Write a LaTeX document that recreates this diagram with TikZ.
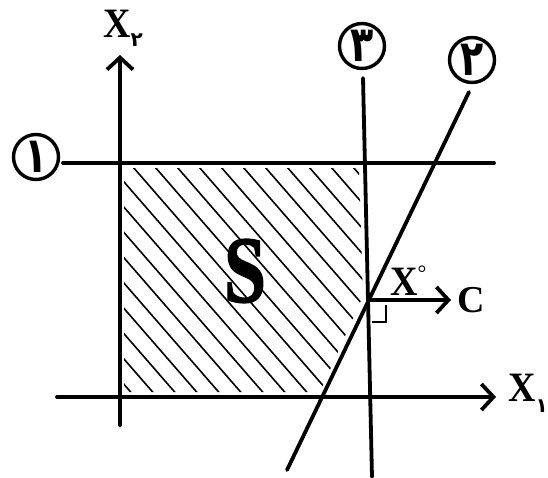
\documentclass[tikz,border=0pt]{standalone}
\usepackage{fontspec}
\setmainfont{Liberation Serif}
\newfontfamily\fa[Script=Arabic]{DejaVu Sans}
\newfontfamily\heavyS[FakeBold=1.5]{Liberation Serif Bold}
\usetikzlibrary{arrows.meta}
\newcommand{\cnum}[1]{\raisebox{-3pt}{\scalebox{1}[1.3]{#1}}}
\tikzset{
  axis/.style={line width=3.8pt, line cap=round},
  bar/.style={-{Straight Barb[length=12pt,width=26pt,line width=3.8pt]}},
  circnum/.style={circle, draw, line width=3.4pt, minimum size=45pt, inner sep=0pt,
    font=\fa\bfseries\fontsize{38}{38}\selectfont},
  hatch/.style={line width=1.6pt},
  lab/.style={inner sep=0pt, font=\bfseries\fontsize{38}{38}\selectfont},
}
\begin{document}
\begin{tikzpicture}[x=1pt,y=-1pt]
\useasboundingbox (0,0) rectangle (548,477);
% coordinates
\coordinate (x2b) at (120,425);
\coordinate (x2t) at (120,55);
\coordinate (x1l) at (57,397);
\coordinate (x1r) at (496,397);
\coordinate (l1a) at (63,163);
\coordinate (l1b) at (494,163);
\coordinate (l3a) at (363,78);
\coordinate (l3b) at (372,477);
\coordinate (l2a) at (469,92);
\coordinate (l2b) at (287,470);
\coordinate (X0) at (369,300);
\coordinate (Ct) at (451,300);
% hatching
\begin{scope}
\clip (124,168) -- (359,168) -- (363,296) -- (320,392) -- (124,392) -- cycle;
\foreach \k in {0,...,20}{
  \draw[hatch] ({135+22*\k+40},{397+46}) -- ({135+22*\k-300},{397-345});
}
\end{scope}
% lines
\draw[axis] (l1a) -- (l1b);
\draw[axis] (l3a) -- (l3b);
\draw[axis] (l2a) -- (l2b);
\draw[axis,bar] (x2b) -- (x2t);
\draw[axis,bar] (x1l) -- (x1r);
\draw[axis,bar,line cap=butt] (X0) -- (Ct);
\draw[line width=2.4pt] (372,322) -- (386,322) -- (386,305);
% circled numbers
\node[circnum] (c1) at (36,157) {\cnum{۱}};
\node[circnum] (c3) at (362,46) {\cnum{۳}};
\node[circnum] (c2) at (472,60) {\cnum{۲}};
% labels
\node[lab, anchor=west] (X2) at (103,28) {\scalebox{1}[1.1]{X}\raisebox{-9pt}{\fa\fontsize{20}{20}\selectfont ۲}};
\node[lab, anchor=west] (X1) at (508,393) {\scalebox{1}[1.1]{X}\raisebox{-11pt}{\fa\fontsize{20}{20}\selectfont ۱}};
\node[lab, anchor=west] (Xo) at (390,281) {\scalebox{1}[1.1]{X}\raisebox{15pt}{\mdseries\fontsize{22}{22}\selectfont °}};
\node[lab, anchor=west] (C) at (457,300) {C};
\node[lab] (S) at (245,271) {\scalebox{1.0}[1.25]{\heavyS\fontsize{76}{76}\selectfont S}};
\end{tikzpicture}
\end{document}
